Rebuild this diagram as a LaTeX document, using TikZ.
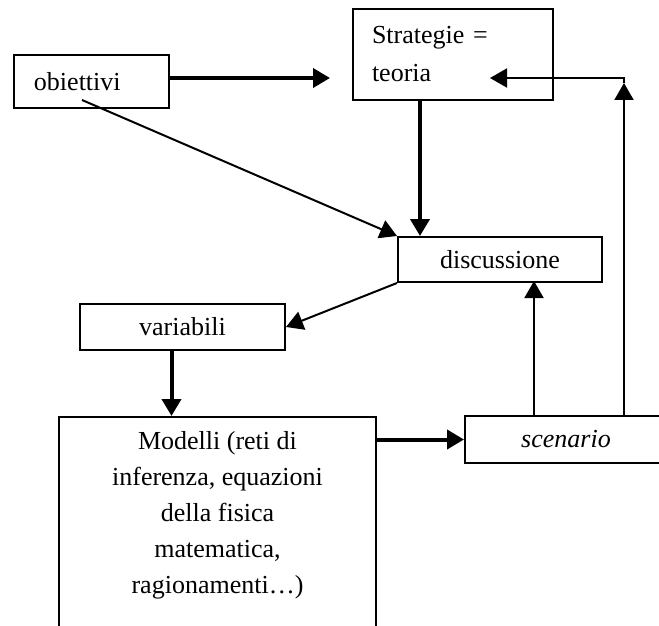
\documentclass[tikz,border=0pt]{standalone}
\usepackage{fontspec}
\setmainfont{Liberation Serif}
\usetikzlibrary{positioning,arrows.meta}
\tikzset{%
  block/.style = {draw, line width=2pt, rectangle, minimum height=46pt,
    minimum width=204pt, font=\fontsize{26}{36}\selectfont},
  point/.style = {coordinate}, % free end
  fat/.style   = {line width=4pt},
  slim/.style  = {line width=2pt}
}

\begin{document}
\begin{tikzpicture}[x=1pt, y=-1pt, >={Triangle[length=17pt,width=19pt]}]
  \useasboundingbox (0,0) rectangle (659,626);
  \clip (0,0) rectangle (659,626);

  \draw node at (91.5,81.5) [block, minimum width=155pt, minimum height=53pt,
    align=left, text width=115pt, inner xsep=20pt] (obiettivi) {obiettivi};
  \draw node at (453,54.5) [block, minimum width=200pt, minimum height=91pt,
    align=left, text width=162pt, inner xsep=19pt] (strategie) {Strategie =\\[2pt]teoria};
  \draw node at (500,259.5) [block, minimum height=45pt] (discussione) {discussione};
  \draw node at (182.5,327) [block, minimum width=205pt] (variabili) {variabili};
  \draw node at (566,439.5) [block, minimum width=202pt, minimum height=47pt] (scenario) {\textit{scenario}};
  \draw node at (217.5,416) [block, anchor=north, minimum width=317pt, align=center,
    inner ysep=14pt, text depth=260pt] (modelli)
    {Modelli (reti di\\inferenza, equazioni\\della fisica\\matematica,\\ragionamenti\dots)};

  \draw node at (330,78) [point] (strategieTip) {};
  \draw node at (82,100) [point] (obiettiviOut) {};
  \draw node at (624,78) [point] (corner) {};
  \draw node at (490,78) [point] (teoriaTip) {};

  \draw[->, fat] (obiettivi.east |- strategieTip) -- (strategieTip);
  \draw[->, slim] (obiettiviOut) -- (discussione.north west);
  \draw[->, fat] ([xshift=-33pt]strategie.south) -- ([xshift=-33pt]strategie.south |- discussione.north);
  \draw[->, slim] (discussione.south west) -- (variabili.east);
  \draw[->, fat] ([xshift=-11pt]variabili.south) -- ([xshift=-11pt]variabili.south |- modelli.north);
  \draw[->, fat] (modelli.east |- scenario.west) -- (scenario.west);
  \draw[->, slim, shorten >=-2pt] ([xshift=-32pt]scenario.north) -- ([xshift=-32pt]scenario.north |- discussione.south);

  \draw[->, slim] (scenario.north -| corner) -- ([yshift=-5pt]corner);
  \draw[->, slim] ([yshift=-5pt]corner) -- (corner) -- (teoriaTip);

\end{tikzpicture}
\end{document}
